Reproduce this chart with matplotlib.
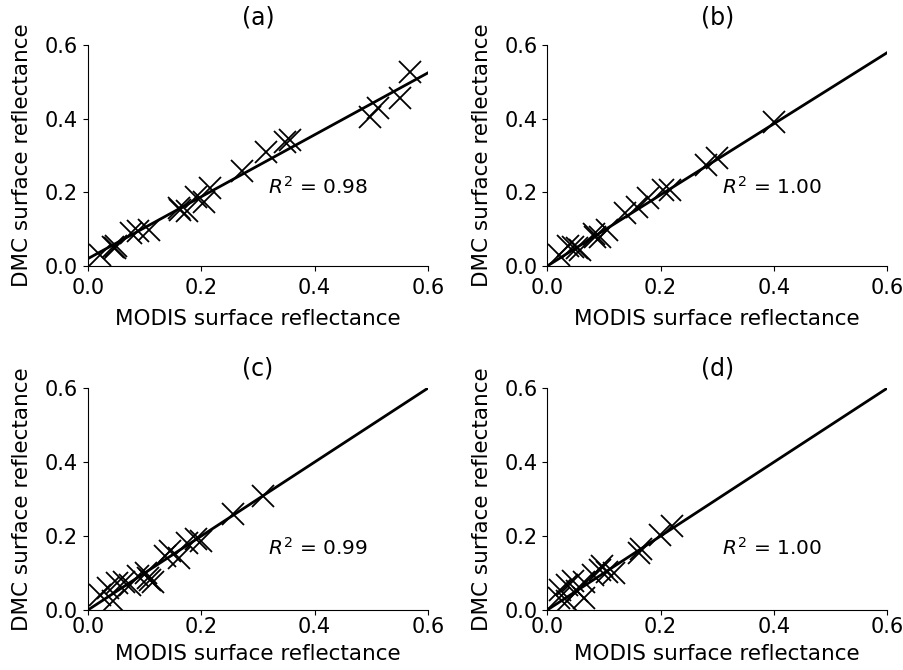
import numpy as np
import matplotlib.pyplot as plt

# values
modis_a = [0.021, 0.045, 0.048, 0.050, 0.076, 0.089, 0.108, 0.160, 0.163, 0.174, 0.190, 0.204,
           0.215, 0.272, 0.315, 0.348, 0.356, 0.498, 0.512, 0.551, 0.568]
dmc_a = [0.030, 0.052, 0.048, 0.055, 0.090, 0.095, 0.097, 0.158, 0.152, 0.148, 0.188, 0.175,
         0.212, 0.258, 0.310, 0.336, 0.342, 0.405, 0.428, 0.455, 0.527]

modis_b = [0.020, 0.036, 0.046, 0.052, 0.058, 0.082, 0.085, 0.093, 0.105, 0.137, 0.158, 0.177,
           0.205, 0.216, 0.281, 0.299, 0.400]
dmc_b = [0.030, 0.055, 0.052, 0.048, 0.043, 0.088, 0.080, 0.080, 0.098, 0.143, 0.161, 0.184,
         0.206, 0.206, 0.274, 0.292, 0.392]

modis_c = [0.022, 0.036, 0.045, 0.051, 0.063, 0.075, 0.089, 0.103, 0.106, 0.109, 0.115, 0.136,
           0.145, 0.160, 0.175, 0.190, 0.200, 0.256, 0.309]
dmc_c = [0.041, 0.059, 0.023, 0.073, 0.077, 0.068, 0.091, 0.100, 0.086, 0.082, 0.076, 0.145,
         0.159, 0.141, 0.182, 0.191, 0.186, 0.259, 0.309]

modis_d = [0.020, 0.022, 0.034, 0.034, 0.046, 0.052, 0.064, 0.064, 0.081, 0.093, 0.096, 0.105,
           0.117, 0.162, 0.166, 0.199, 0.220]
dmc_d = [0.032, 0.055, 0.023, 0.068, 0.078, 0.050, 0.032, 0.075, 0.095, 0.109, 0.118, 0.104,
         0.100, 0.155, 0.164, 0.204, 0.227]

# regression lines (slope, intercept) and R^2 labels
fits = [(0.84, 0.020), (0.965, 0.0), (1.0, 0.0), (1.0, 0.0)]
r2_labels = ['0.98', '1.00', '0.99', '1.00']
titles = ['(a)', '(b)', '(c)', '(d)']
r2_pos = [(0.318, 0.214), (0.309, 0.214), (0.318, 0.167), (0.309, 0.167)]

xs = [modis_a, modis_b, modis_c, modis_d]
ys = [dmc_a, dmc_b, dmc_c, dmc_d]

fig = plt.figure(figsize=(9.04, 6.70), dpi=100)
positions = [[0.0973, 0.603, 0.376, 0.330], [0.6054, 0.603, 0.376, 0.330],
             [0.0973, 0.0896, 0.376, 0.331], [0.6054, 0.0896, 0.376, 0.331]]
top_row = [True, True, False, False]

for i in range(4):
    ax = fig.add_axes(positions[i])
    ax.plot(xs[i], ys[i], 'x', color='black', markersize=16, markeredgewidth=1.3)
    line_x = np.array([0.0, 0.6])
    slope, icpt = fits[i]
    ax.plot(line_x, slope * line_x + icpt, color='black', linewidth=2)
    ax.set_xlim(0, 0.6)
    ax.set_ylim(0, 0.6)
    ax.set_xticks([0.0, 0.2, 0.4, 0.6])
    ax.set_yticks([0.0, 0.2, 0.4, 0.6])
    ax.tick_params(labelsize=15)
    ax.tick_params(axis='x', pad=5 if top_row[i] else 1.5)
    ax.spines['top'].set_visible(False)
    ax.spines['right'].set_visible(False)
    ax.set_title(titles[i], fontsize=17, pad=15 if top_row[i] else 9)
    ax.set_xlabel('MODIS surface reflectance', fontsize=15.5, labelpad=8 if top_row[i] else 5)
    ax.set_ylabel('DMC surface reflectance', fontsize=15.5, labelpad=9)
    ax.text(r2_pos[i][0], r2_pos[i][1], '$R^2$ = ' + r2_labels[i], fontsize=14.5, va='center')

fig.savefig('out.png', dpi=100)
